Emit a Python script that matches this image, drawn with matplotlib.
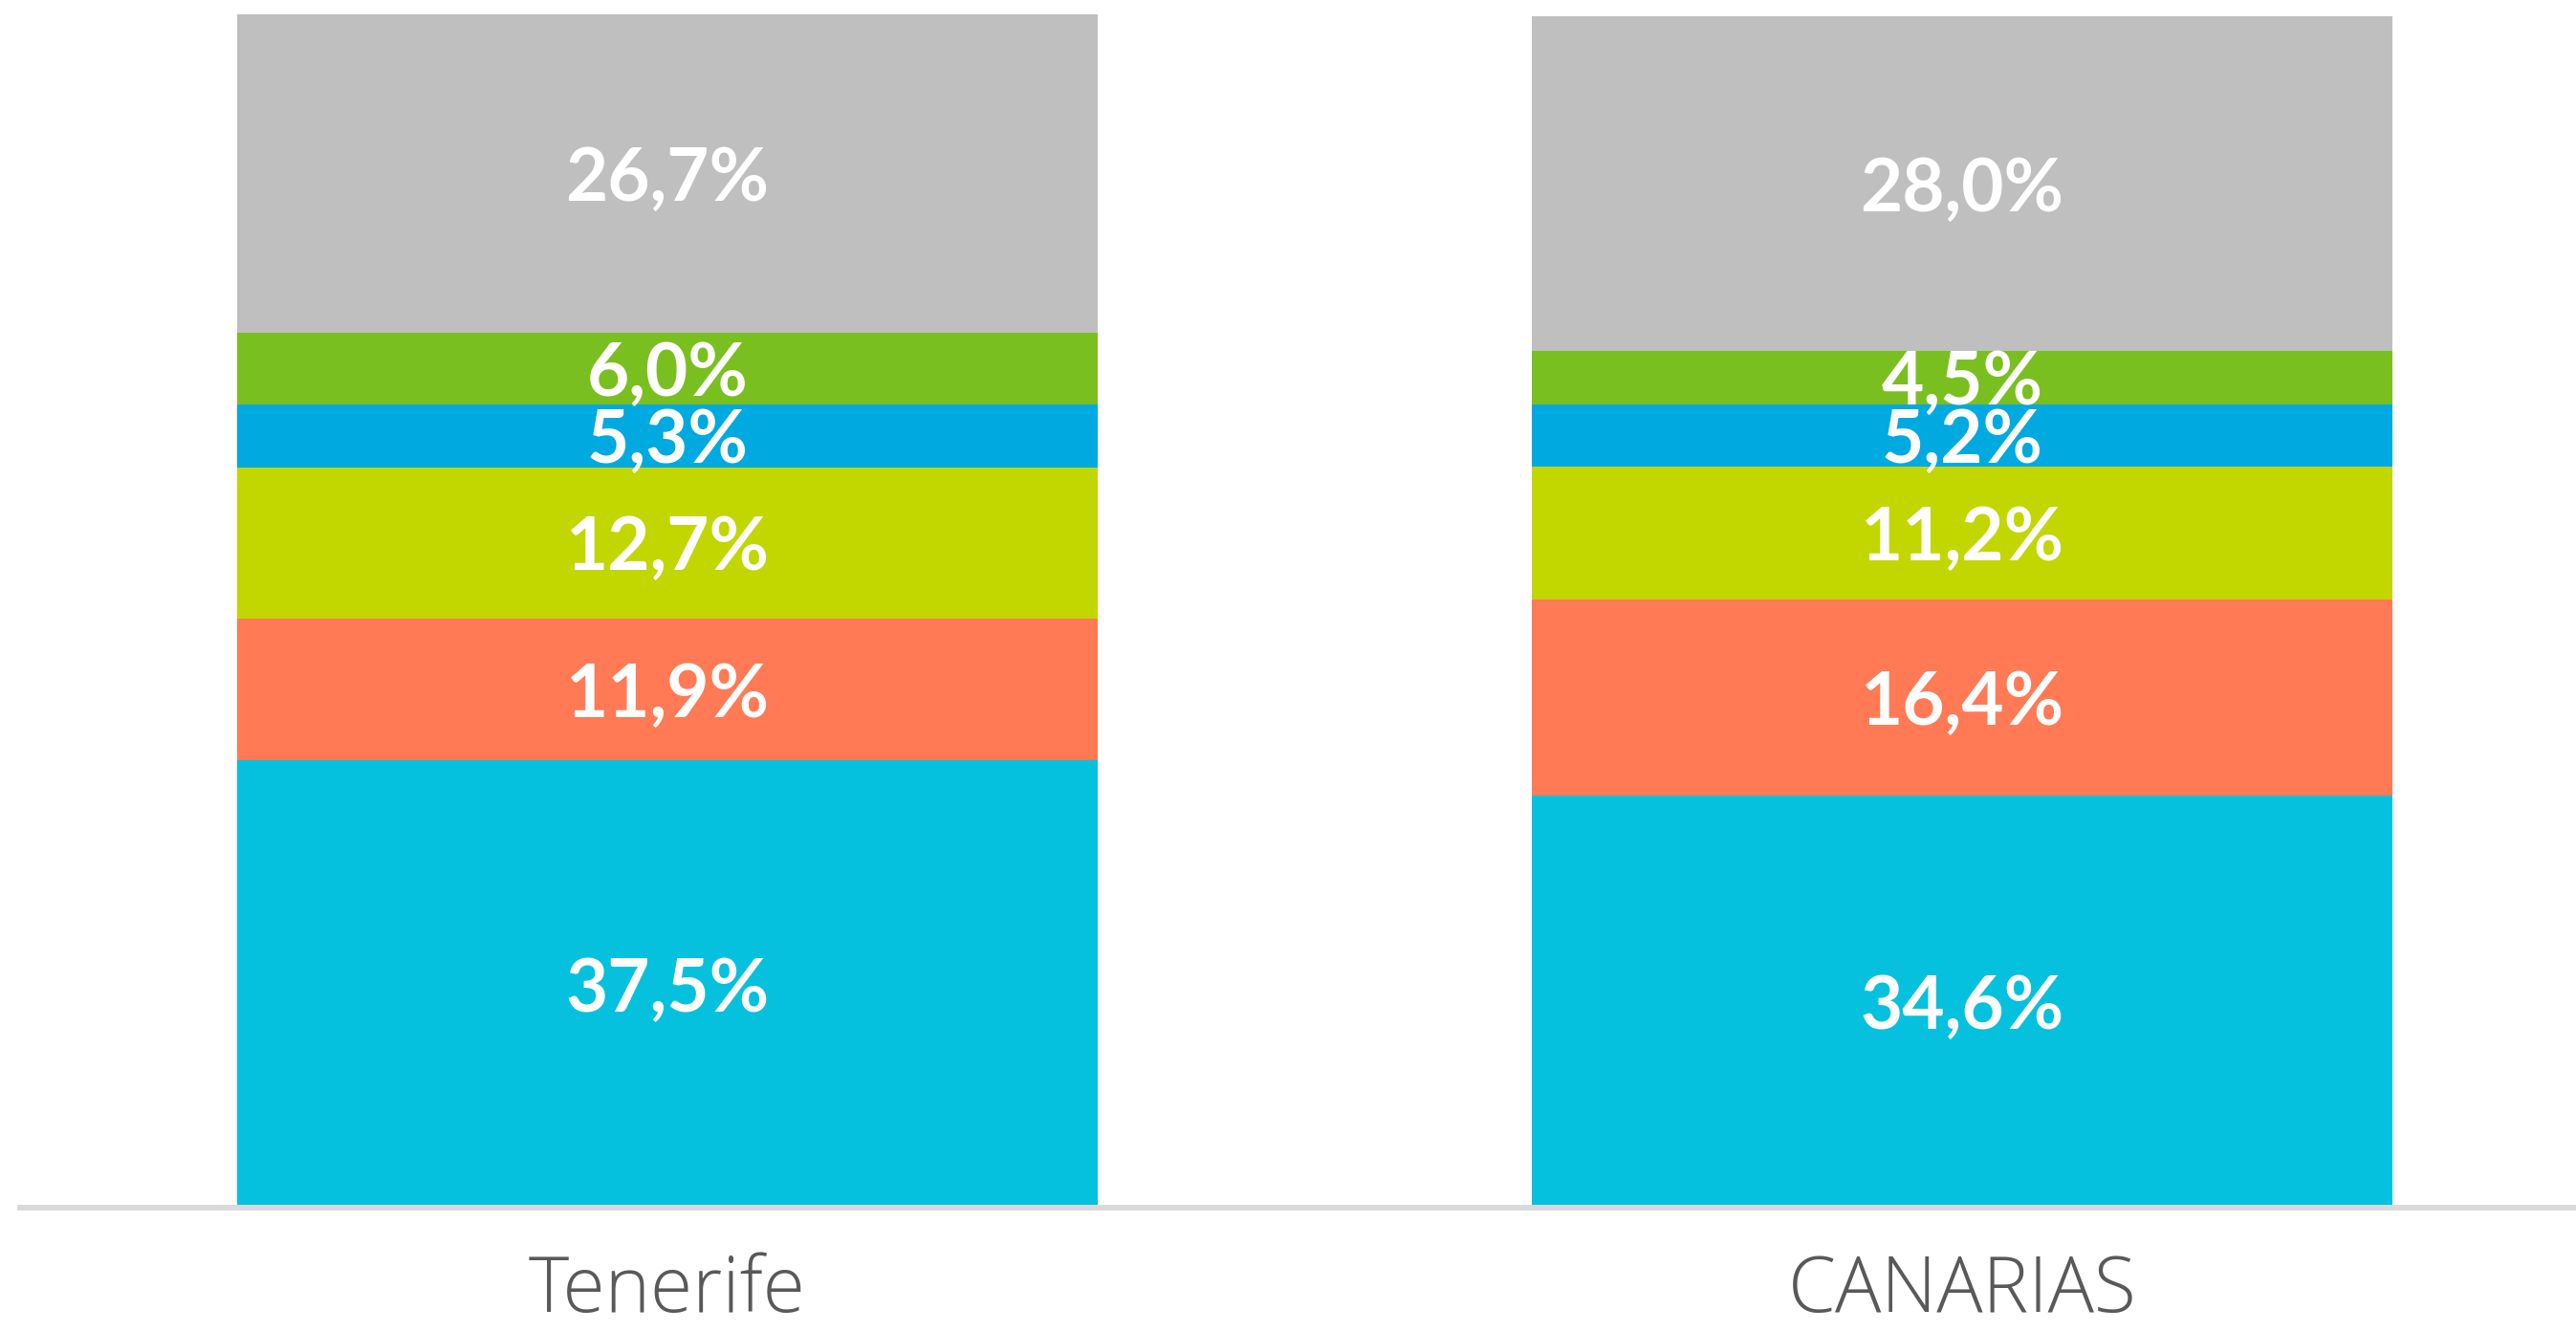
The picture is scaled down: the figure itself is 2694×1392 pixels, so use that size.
import matplotlib.pyplot as plt
import numpy as np

regions = ["Tenerife", "CANARIAS"]
# stacked segments from bottom to top
seg_1 = [37.5, 34.6]
seg_2 = [11.9, 16.4]
seg_3 = [12.7, 11.2]
seg_4 = [5.3, 5.2]
seg_5 = [6.0, 4.5]
seg_6 = [26.7, 28.0]

segments = [seg_1, seg_2, seg_3, seg_4, seg_5, seg_6]
colors = ["#05C1DE", "#FF7A55", "#C2D600", "#00A9E0", "#7ABF20", "#BFBFBF"]

fig = plt.figure(figsize=(26.94, 13.92), dpi=100)
ax = fig.add_axes([21 / 2694, 129 / 1392, 1 - 21 / 2694, (1263 - 15) / 1392])

x = np.arange(len(regions))
bottom = np.zeros(len(regions))
for vals, col in zip(segments, colors):
    vals = np.array(vals)
    ax.bar(x, vals, width=0.665, bottom=bottom, color=col, linewidth=0)
    for xi, b, v in zip(x, bottom, vals):
        ax.text(xi, b + v / 2, f"{v:.1f}%".replace(".", ","), ha="center", va="center_baseline",
                color="white", fontsize=55, fontweight="bold", family="Lato")
    bottom += vals

ax.set_xlim(-0.5, 1.474)
ax.set_ylim(0, 100.1)
ax.set_yticks([])
ax.set_xticks(x)
ax.set_xticklabels(regions, fontsize=58, color="#595959", family="Open Sans", fontweight="light")
ax.tick_params(axis="x", length=0, pad=34)
for s in ["top", "right", "left"]:
    ax.spines[s].set_visible(False)
ax.spines["bottom"].set_color("#D9D9D9")
ax.spines["bottom"].set_linewidth(4.3)

fig.savefig("out.png", dpi=100)
